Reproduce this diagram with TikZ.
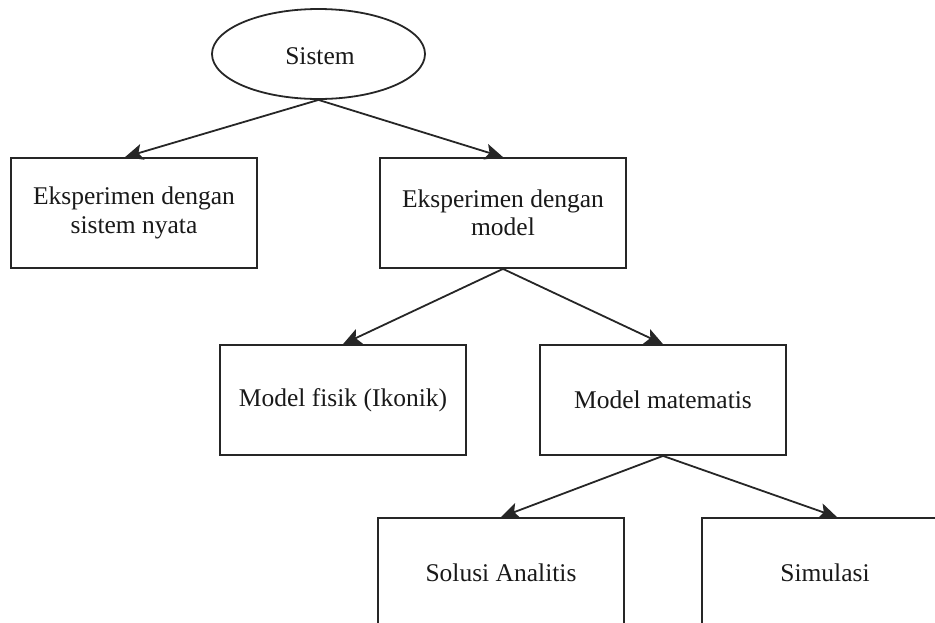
\documentclass[tikz,border=0pt]{standalone}
\usepackage{fontspec}
\setmainfont{Liberation Serif}
\usetikzlibrary{shapes.geometric,arrows.meta}
\begin{document}
\begin{tikzpicture}[x=1pt,y=-1pt,
  every node/.style={font=\fontsize{25.5}{28.5}\selectfont, text=black!90},
  boxnode/.style={draw=black!85, line width=1.8pt, rectangle, minimum width=246pt, minimum height=110pt, inner sep=0pt, align=center},
  ellnode/.style={draw=black!85, line width=1.8pt, ellipse, minimum width=213pt, minimum height=90pt, inner sep=0pt},
  conn/.style={draw=black!85, line width=1.8pt, -{Stealth[length=18pt,width=16pt,inset=4pt]}}]
\useasboundingbox (0,0) rectangle (935,622);
\clip (0,0) rectangle (935,622);
\node[ellnode] (e) at (318.5,54) {};
\node at (320,56) (et) {Sistem};
\node[boxnode] (b1) at (134,213) {Eksperimen dengan\\sistem nyata};
\node[boxnode] (b2) at (503,213) {Eksperimen dengan\\model};
\node[boxnode] (b3) at (343,400) {Model fisik (Ikonik)};
\node[boxnode] (b4) at (663,400) {Model matematis};
\node[boxnode] (b5) at (501,573) {Solusi Analitis};
\node[boxnode] (b6) at (825,573) {Simulasi};
\draw[conn] (e.south) -- ([xshift=-9pt]b1.north);
\draw[conn] (e.south) -- (b2.north);
\draw[conn] (b2.south) -- (b3.north);
\draw[conn] (b2.south) -- (b4.north);
\draw[conn] (b4.south) -- (b5.north);
\draw[conn] (b4.south) -- ([xshift=12pt]b6.north);
\end{tikzpicture}
\end{document}
